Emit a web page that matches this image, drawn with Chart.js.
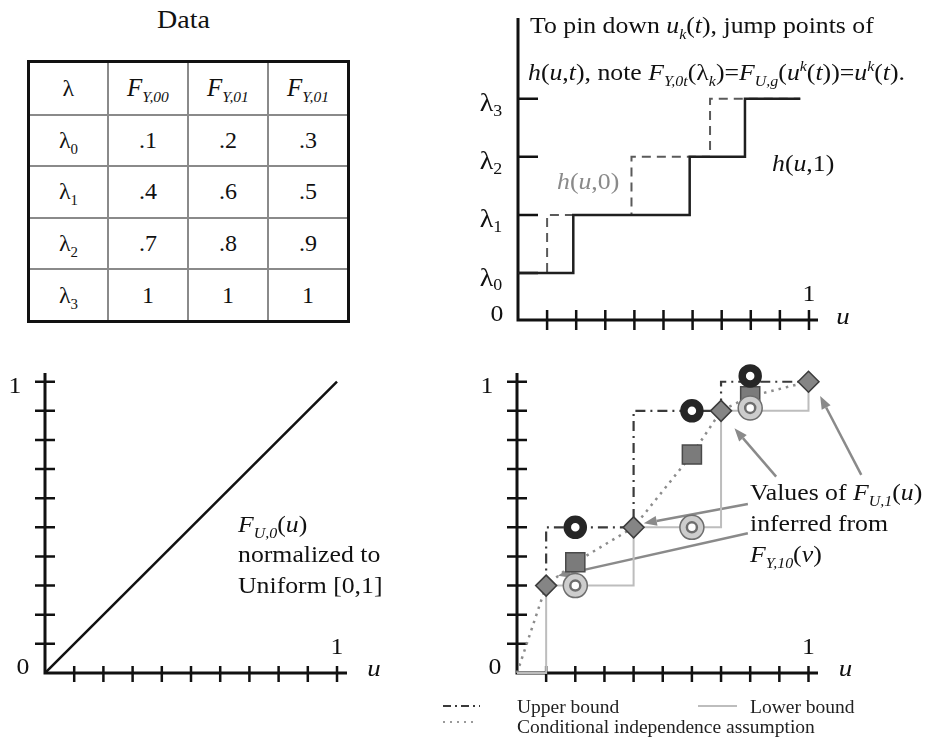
<!DOCTYPE html>
<html>
<head>
<meta charset="utf-8">
<script src="https://cdn.jsdelivr.net/npm/chart.js@4.4.1/dist/chart.umd.min.js"></script>
<style>
  html, body { margin: 0; padding: 0; background: #fff; }
  body { width: 935px; height: 740px; position: relative; overflow: hidden;
         font-family: 'Liberation Serif', 'Times New Roman', serif; color: #111; }
  .box { position: absolute; }
  .txt { position: absolute; white-space: nowrap; line-height: 1; transform-origin: 0 0; }
  sub, sup { font-size: 0.62em; line-height: 0; }
  table.data { position: absolute; left: 27px; top: 60px; width: 323px; height: 263px;
               border-collapse: collapse; border: 3px solid #111; }
  table.data td { border: 2px solid #8a8a8a; text-align: center; font-size: 24px; width: 80px; padding: 0; }
  table.data td.hd { font-size: 25px; }
</style>
</head>
<body>
<div class="box" style="left:440px;top:0px"><canvas id="steps" width="495" height="345"></canvas></div>
<div class="box" style="left:0px;top:350px"><canvas id="uniform" width="440" height="360"></canvas></div>
<div class="box" style="left:440px;top:350px"><canvas id="bounds" width="495" height="390"></canvas></div>

<script>
// ---- table data ----
const lambdaSubs = ['0', '1', '2', '3'];
const tableHeads = ['Y,00', 'Y,01', 'Y,01'];
const fY00 = ['.1', '.4', '.7', '1'];
const fY01 = ['.2', '.6', '.8', '1'];
const fY01b = ['.3', '.5', '.9', '1'];

// ---- top right: step functions h(u,0), h(u,1) ----
const lambdaLevels = [0.81, 1.81, 2.81, 3.81];
const h0JumpU = [0, 0.1, 0.39, 0.66, 0.97];
const h1JumpU = [0, 0.19, 0.59, 0.78, 0.97];

// ---- bottom left: uniform cdf ----
const diagU = [0, 1];
const diagF = [0, 1];

// ---- bottom right: bounds ----
const jumpU = [0, 0.1, 0.4, 0.7, 1.0];
const jumpF = [0, 0.3, 0.5, 0.9, 1.0];
const markU = [0.2, 0.6, 0.8];
const upperMarkF = [0.5, 0.9, 1.02];
const lowerMarkF = [0.3, 0.5, 0.91];
const condMarkF = [0.38, 0.75, 0.95];

const uTicks = [0.1, 0.2, 0.3, 0.4, 0.5, 0.6, 0.7, 0.8, 0.9, 1];

const SERIF = '"Liberation Serif", "Times New Roman", serif';
const STRETCH = 1.12; // the figure's lettering is a bit wider than Liberation Serif

// build the data table
const table = document.createElement('table');
table.className = 'data';
let head = '<tr style="height:53px"><td>λ</td>';
tableHeads.forEach(h => { head += `<td class="hd"><i>F</i><sub><i>${h}</i></sub></td>`; });
head += '</tr>';
let body = '';
lambdaSubs.forEach((s, i) => {
    body += `<tr><td>λ<sub>${s}</sub></td><td>${fY00[i]}</td><td>${fY01[i]}</td><td>${fY01b[i]}</td></tr>`;
});
table.innerHTML = head + body;
document.body.appendChild(table);

// text placed by baseline
function place(html, left, baseline, size, color) {
    const d = document.createElement('div');
    d.className = 'txt';
    d.style.left = left + 'px';
    d.style.top = (baseline - 0.84 * size) + 'px';
    d.style.fontSize = size + 'px';
    d.style.transform = `scaleX(${STRETCH})`;
    if (color) d.style.color = color;
    d.innerHTML = html;
    document.body.appendChild(d);
}

place('Data', 157, 28, 25);
place('To pin down <i>u</i><sub><i>k</i></sub>(<i>t</i>), jump points of', 530, 33, 23);
place('<i>h</i>(<i>u</i>,<i>t</i>), note <i>F</i><sub><i>Y,0t</i></sub>(λ<sub><i>k</i></sub>)=<i>F</i><sub><i>U,g</i></sub>(<i>u</i><sup><i>k</i></sup>(<i>t</i>))=<i>u</i><sup><i>k</i></sup>(<i>t</i>).', 528, 80, 23);
place('<i>h</i>(<i>u</i>,0)', 557, 189, 23, '#8a8a8a');
place('<i>h</i>(<i>u</i>,1)', 772, 171, 23);
place('<i>F</i><sub><i>U,0</i></sub>(<i>u</i>)', 238, 532, 23);
place('normalized to', 238, 562, 23);
place('Uniform [0,1]', 238, 593, 23);
place('Values of <i>F</i><sub><i>U,1</i></sub>(<i>u</i>)', 750, 500, 23);
place('inferred from', 750, 531, 23);
place('<i>F</i><sub><i>Y,10</i></sub>(<i>v</i>)', 750, 562, 23);

// axes, crossing tick marks and axis labels, all through the scales
const axisDecor = {
    id: 'axisDecor',
    beforeDatasetsDraw(chart, args, o) {
        const { ctx, chartArea: a, scales: { x, y } } = chart;
        ctx.save();
        ctx.strokeStyle = '#111';
        ctx.lineWidth = 3;
        ctx.beginPath();
        ctx.moveTo(a.left, a.top);
        ctx.lineTo(a.left, a.bottom);
        ctx.lineTo(a.right, a.bottom);
        ctx.stroke();
        ctx.lineWidth = 2.5;
        ctx.beginPath();
        o.xTicks.forEach(v => {
            const px = x.getPixelForValue(v);
            ctx.moveTo(px, a.bottom - o.xSpan[0]);
            ctx.lineTo(px, a.bottom + o.xSpan[1]);
        });
        o.yTicks.forEach(v => {
            const py = y.getPixelForValue(v);
            ctx.moveTo(a.left - o.ySpan[0], py);
            ctx.lineTo(a.left + o.ySpan[1], py);
        });
        ctx.stroke();
        ctx.fillStyle = '#111';
        ctx.textBaseline = 'middle';
        o.labels.forEach(l => {
            const px = x.getPixelForValue(l.x) + l.dx;
            const py = y.getPixelForValue(l.y) + l.dy;
            const font = (l.italic ? 'italic ' : '') + (l.size || 23) + 'px ' + SERIF;
            ctx.save();
            ctx.translate(px, py);
            ctx.scale(STRETCH, 1);
            ctx.font = font;
            if (l.sub) {
                const w = ctx.measureText(l.text).width;
                ctx.font = '16px ' + SERIF;
                const ws = ctx.measureText(l.sub).width;
                const x0 = -(w + ws) / 2;
                ctx.textAlign = 'left';
                ctx.font = font;
                ctx.fillText(l.text, x0, 0);
                ctx.font = '16px ' + SERIF;
                ctx.fillText(l.sub, x0 + w, 7);
            } else {
                ctx.textAlign = 'center';
                ctx.fillText(l.text, 0, 0);
            }
            ctx.restore();
        });
        ctx.restore();
    }
};

const arrows = {
    id: 'arrows',
    beforeDatasetsDraw(chart, args, o) {
        if (!o.list) return;
        const { ctx, scales: { x, y } } = chart;
        ctx.save();
        ctx.strokeStyle = o.color;
        ctx.fillStyle = o.color;
        ctx.lineWidth = 2.5;
        o.list.forEach(ar => {
            const x1 = x.getPixelForValue(ar.from[0]), y1 = y.getPixelForValue(ar.from[1]);
            const x2 = x.getPixelForValue(ar.to[0]), y2 = y.getPixelForValue(ar.to[1]);
            const ang = Math.atan2(y2 - y1, x2 - x1);
            const L = 13, W = 5;
            const bx = x2 - L * Math.cos(ang), by = y2 - L * Math.sin(ang);
            ctx.beginPath();
            ctx.moveTo(x1, y1);
            ctx.lineTo(bx, by);
            ctx.stroke();
            ctx.beginPath();
            ctx.moveTo(x2, y2);
            ctx.lineTo(bx + W * Math.sin(ang), by - W * Math.cos(ang));
            ctx.lineTo(bx - W * Math.sin(ang), by + W * Math.cos(ang));
            ctx.closePath();
            ctx.fill();
        });
        ctx.restore();
    }
};

const lineLegend = {
    id: 'lineLegend',
    afterDraw(chart, args, o) {
        if (!o.items) return;
        const ctx = chart.ctx;
        ctx.save();
        o.items.forEach(it => {
            ctx.strokeStyle = it.color;
            ctx.lineWidth = it.width;
            ctx.setLineDash(it.dash);
            ctx.beginPath();
            ctx.moveTo(it.x0, it.y);
            ctx.lineTo(it.x1, it.y);
            ctx.stroke();
            ctx.setLineDash([]);
            ctx.fillStyle = '#222';
            ctx.font = '19.5px ' + SERIF;
            ctx.textAlign = 'left';
            ctx.textBaseline = 'alphabetic';
            ctx.fillText(it.text, it.tx, it.ty);
        });
        ctx.restore();
    }
};

function pts(us, fs) { return us.map((u, i) => ({ x: u, y: fs[i] })); }

function baseOptions(pad, xMax, yMax, decor) {
    return {
        responsive: false,
        animation: false,
        events: [],
        layout: { padding: pad, autoPadding: false },
        scales: {
            x: { type: 'linear', min: 0, max: xMax, display: false },
            y: { type: 'linear', min: 0, max: yMax, display: false }
        },
        plugins: { legend: { display: false }, tooltip: { enabled: false }, axisDecor: decor },
        elements: { point: { radius: 0 }, line: { tension: 0 } }
    };
}

// ---- top right chart ----
const hLevels = lambdaLevels.concat([lambdaLevels[3]]);
new Chart(document.getElementById('steps'), {
    type: 'line',
    data: {
        datasets: [
            { data: pts(h1JumpU, hLevels), stepped: 'before', borderColor: '#1f1f1f', borderWidth: 2.5, order: 0 },
            { data: pts(h0JumpU, hLevels), stepped: 'before', borderColor: '#5a5a5a', borderWidth: 2, borderDash: [9, 6], order: 1 }
        ]
    },
    options: baseOptions({ left: 78, top: 18, right: 117, bottom: 25 }, 1.031, 5.2, {
        xTicks: uTicks, xSpan: [10, 10],
        yTicks: lambdaLevels, ySpan: [0, 20],
        labels: [
            { text: '0', x: 0, y: 0, dx: -21, dy: -5 },
            { text: 'λ', sub: '0', x: 0, y: lambdaLevels[0], dx: -27, dy: 6, size: 25 },
            { text: 'λ', sub: '1', x: 0, y: lambdaLevels[1], dx: -27, dy: 6, size: 25 },
            { text: 'λ', sub: '2', x: 0, y: lambdaLevels[2], dx: -27, dy: 6, size: 25 },
            { text: 'λ', sub: '3', x: 0, y: lambdaLevels[3], dx: -27, dy: 6, size: 25 },
            { text: '1', x: 1, y: 0, dx: 0, dy: -25 },
            { text: 'u', x: 1, y: 0, dx: 34, dy: -2, italic: true, size: 24 }
        ]
    }),
    plugins: [axisDecor]
});

// ---- bottom left chart ----
const unitLabels = [
    { text: '1', x: 0, y: 1, dx: -30, dy: 5 },
    { text: '0', x: 0, y: 0, dx: -22, dy: -5 },
    { text: '1', x: 1, y: 0, dx: 0, dy: -25 },
    { text: 'u', x: 1, y: 0, dx: 37, dy: -3, italic: true, size: 24 }
];
new Chart(document.getElementById('uniform'), {
    type: 'line',
    data: { datasets: [{ data: pts(diagU, diagF), borderColor: '#111', borderWidth: 2.5 }] },
    options: baseOptions({ left: 45, top: 23, right: 93, bottom: 37 }, 1.0342, 1.03, {
        xTicks: uTicks, xSpan: [7, 9], yTicks: uTicks, ySpan: [10, 10], labels: unitLabels
    }),
    plugins: [axisDecor]
});

// ---- bottom right chart ----
const condPts = pts(jumpU, jumpF).concat(pts(markU, condMarkF)).sort((a, b) => a.x - b.x);
const boundsOpts = baseOptions({ left: 77, top: 23, right: 117, bottom: 67 }, 1.0326, 1.03, {
    xTicks: uTicks, xSpan: [7, 9], yTicks: uTicks, ySpan: [10, 10], labels: unitLabels
});
boundsOpts.plugins.arrows = {
    color: '#8a8a8a',
    list: [
        { from: [0.792, 0.580], to: [0.435, 0.514] },
        { from: [0.792, 0.480], to: [0.140, 0.334] },
        { from: [0.889, 0.674], to: [0.746, 0.840] },
        { from: [1.181, 0.680], to: [1.040, 0.951] }
    ]
};
boundsOpts.plugins.lineLegend = {
    items: [
        { x0: 3, x1: 40, y: 356, color: '#3a3a3a', width: 2, dash: [8, 4, 2, 4], text: 'Upper bound', tx: 77, ty: 363 },
        { x0: 258, x1: 297, y: 356, color: '#bdbdbd', width: 2, dash: [], text: 'Lower bound', tx: 310, ty: 363 },
        { x0: 3, x1: 38, y: 372, color: '#9a9a9a', width: 2, dash: [2, 5], text: 'Conditional independence assumption', tx: 77, ty: 383 }
    ]
};
new Chart(document.getElementById('bounds'), {
    type: 'line',
    data: {
        datasets: [
            // lower bound marker: light ring with white centre
            { data: pts(markU, lowerMarkF), showLine: false, pointStyle: 'circle', pointRadius: 5,
              pointBackgroundColor: '#fff', pointBorderColor: '#6e6e6e', pointBorderWidth: 2.5, clip: false, order: 0 },
            { data: pts(markU, lowerMarkF), showLine: false, pointStyle: 'circle', pointRadius: 12,
              pointBackgroundColor: '#cdcdcd', pointBorderColor: '#6e6e6e', pointBorderWidth: 1.5, clip: false, order: 1 },
            // upper bound marker: dark ring
            { data: pts(markU, upperMarkF), showLine: false, pointStyle: 'circle', pointRadius: 8,
              pointBackgroundColor: '#fff', pointBorderColor: '#262626', pointBorderWidth: 7.5, clip: false, order: 2 },
            // conditional independence marker
            { data: pts(markU, condMarkF), showLine: false, pointStyle: 'rect', pointRadius: 13.5,
              pointBackgroundColor: '#7b7b7b', pointBorderColor: '#4a4a4a', pointBorderWidth: 1.5, clip: false, order: 3 },
            // inferred values
            { data: pts(jumpU.slice(1), jumpF.slice(1)), showLine: false, pointStyle: 'rectRot', pointRadius: 10.5,
              pointBackgroundColor: '#858585', pointBorderColor: '#3c3c3c', pointBorderWidth: 1.5, clip: false, order: 4 },
            // lines
            { data: pts(jumpU.slice(1), jumpF.slice(1)), stepped: 'after', borderColor: '#3a3a3a', borderWidth: 2.2,
              borderDash: [10, 5, 2, 5], clip: false, order: 5 },
            { data: pts(jumpU, jumpF), stepped: 'before', borderColor: '#bdbdbd', borderWidth: 2, clip: false, order: 6 },
            { data: condPts, borderColor: '#8c8c8c', borderWidth: 2.5, borderDash: [2.5, 5], clip: false, order: 7 }
        ]
    },
    options: boundsOpts,
    plugins: [axisDecor, arrows, lineLegend]
});
</script>
</body>
</html>
